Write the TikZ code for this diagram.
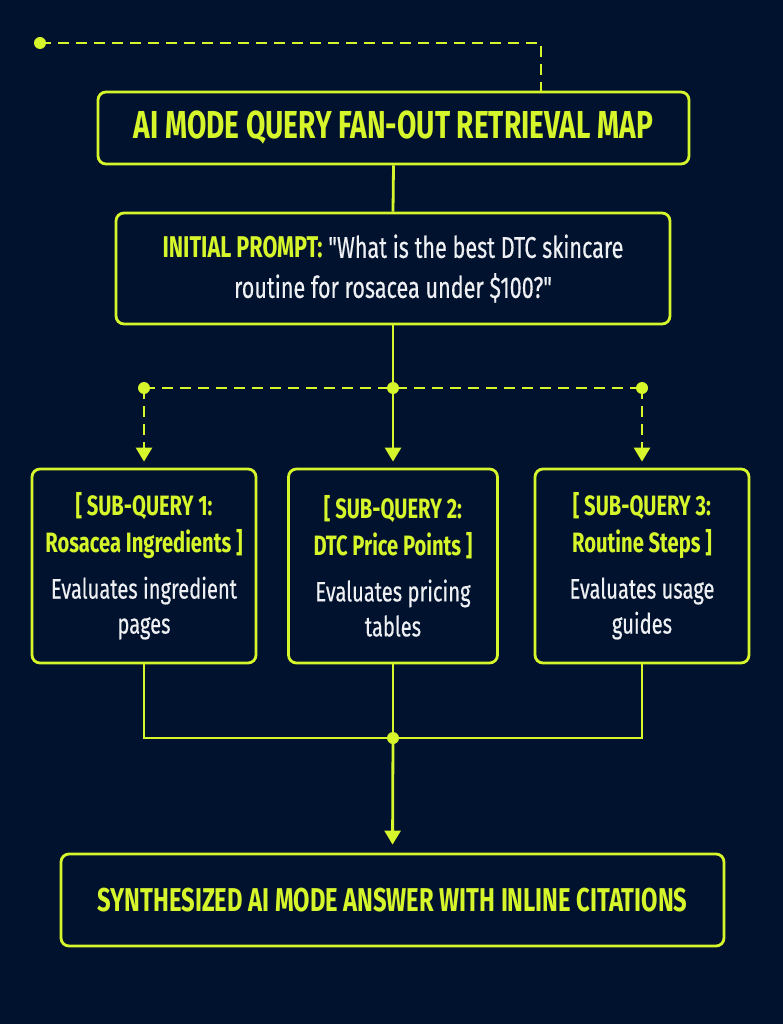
\documentclass[tikz,border=0pt]{standalone}
\usepackage{fontspec}
\setmainfont{Fira Sans}[FakeStretch=0.72, Ligatures=TeXOff, UprightFeatures={FakeBold=0.4}]
\usetikzlibrary{arrows.meta}
\definecolor{bg}{HTML}{01122E}
\definecolor{lime}{HTML}{D6F52B}
\definecolor{txt}{HTML}{EEF0F3}
\tikzset{
  box/.style={draw=lime, line width=2.8pt, rounded corners=8pt, fill=bg, align=center, inner sep=0pt, text=txt},
  wire/.style={draw=lime, line width=2.8pt},
  dashwire/.style={wire, dash pattern=on 11pt off 7pt},
  tipped/.style={-{Triangle[width=16pt,length=14pt]}, shorten >=6pt},
  dot/.style={circle, fill=lime, minimum size=12pt, inner sep=0pt},
  subfont/.style={font=\fontsize{28}{37}\selectfont},
}
\newcommand{\yl}[1]{{\bfseries\color{lime}#1}}
\begin{document}
\begin{tikzpicture}[x=1pt,y=-1pt]
\fill[bg] (0,0) rectangle (783,1024);
\useasboundingbox (0,0) rectangle (783,1024);

\node[box, minimum width=591pt, minimum height=72pt, font=\fontsize{39}{42}\selectfont] (title) at (393.5,128)
  {\yl{AI MODE QUERY FAN-OUT RETRIEVAL MAP}};
\node[box, minimum width=554pt, minimum height=111pt, font=\fontsize{30}{40}\selectfont] (prompt) at (393,268.5)
  {\yl{INITIAL PROMPT:} "What is the best DTC skincare\\ routine for rosacea under \$100?"};

\node[box, minimum width=224pt, minimum height=194pt, subfont] (sq1) at (144,566)
  {\yl{[ SUB-QUERY 1:}\\ \yl{Rosacea Ingredients ]}\\[9pt] Evaluates ingredient\\[-2pt] pages};
\node[box, minimum width=209pt, minimum height=194pt, subfont] (sq2) at (393,566)
  {\yl{[ SUB-QUERY 2:}\\ \yl{DTC Price Points ]}\\[9pt] Evaluates pricing\\[-2pt] tables};
\node[box, minimum width=214pt, minimum height=194pt, subfont] (sq3) at (642,566)
  {\yl{[ SUB-QUERY 3:}\\ \yl{Routine Steps ]}\\[9pt] Evaluates usage\\[-2pt] guides};

\node[box, minimum width=663pt, minimum height=92pt, font=\fontsize{33}{36}\selectfont] (final) at (392.5,900)
  {\yl{SYNTHESIZED AI MODE ANSWER WITH INLINE CITATIONS}};

% top dashed lead
\node[dot] (d0) at (40,43) {};
\coordinate (c0) at (541,43);
\draw[dashwire] (d0.center) -- (c0) -- (c0 |- title.north);

\draw[wire] (title.south) -- (prompt.north);

% fan-out
\node[dot] (j1) at (393,388) {};
\node[dot] (jl) at (144,388) {};
\node[dot] (jr) at (642,388) {};
\draw[wire] (prompt.south) -- (j1.center);
\draw[dashwire] (jl.center) -- (jr.center);
\draw[wire, tipped] (j1.center) -- (sq2.north);
\draw[dashwire, tipped] (jl.center) -- (sq1.north);
\draw[dashwire, tipped] (jr.center) -- (sq3.north);

% merge
\node[dot] (j2) at (393,738) {};
\draw[wire] (sq1.south) |- (j2.center) -| (sq3.south);
\draw[wire] (sq2.south) -- (j2.center);
\draw[wire, tipped, shorten >=8pt] (j2.center) -- (final.north);
\end{tikzpicture}
\end{document}
